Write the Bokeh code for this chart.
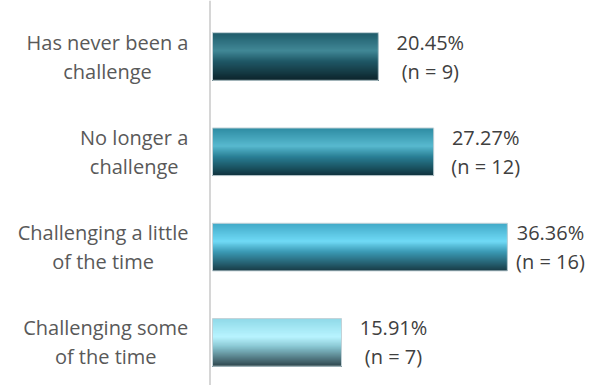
from bokeh.plotting import figure
from bokeh.models import ColumnDataSource, LabelSet, Range1d, Span
from bokeh.core.properties import value
from bokeh.embed import file_html
from bokeh.resources import INLINE

# ---- data ----
category_labels = ["Has never been a\nchallenge",
                   "No longer a\nchallenge",
                   "Challenging a little\nof the time",
                   "Challenging some\nof the time"]
pct = [20.45, 27.27, 36.36, 15.91]
counts = [9, 12, 16, 7]

# ---- style ----
gradients = [
    [(0.0, "#1f5b6a"), (0.38, "#418896"), (0.6, "#1f5866"), (1.0, "#0d242b")],
    [(0.0, "#2d8ba2"), (0.38, "#58b9cf"), (0.6, "#2a8096"), (1.0, "#0f313b")],
    [(0.0, "#41a9c7"), (0.38, "#70daf6"), (0.6, "#3a99b4"), (1.0, "#173a44")],
    [(0.0, "#8fd9e8"), (0.38, "#b8f4ff"), (0.6, "#86c3cf"), (1.0, "#2e454c")],
]
FONT = "Open Sans"
FS = 20
LINE_GAP = 29
W, H = 589, 385
PX_PER = 8.11
ZERO_PX = 212
PITCH = 95.3
BAR_H = 0.5
TOP_CENTER = 56

x_start = -ZERO_PX / PX_PER
x_end = x_start + W / PX_PER
y_top = 1 - TOP_CENTER / PITCH
y_bot = y_top + H / PITCH
ys = list(range(1, len(pct) + 1))

p = figure(width=W, height=H, output_backend="svg", toolbar_location=None,
           x_range=Range1d(x_start, x_end), y_range=Range1d(y_bot, y_top),
           x_axis_location=None, y_axis_location=None,
           min_border_left=0, min_border_right=0,
           min_border_top=0, min_border_bottom=0)
p.grid.visible = False
p.outline_line_color = None
p.background_fill_color = "white"


def h2rgb(h):
    h = h.lstrip("#")
    return [int(h[i:i + 2], 16) for i in (0, 2, 4)]


def interp(stops, t):
    for (t0, c0), (t1, c1) in zip(stops[:-1], stops[1:]):
        if t0 <= t <= t1:
            f = (t - t0) / (t1 - t0)
            a, b = h2rgb(c0), h2rgb(c1)
            return "#%02x%02x%02x" % tuple(int(round(a[j] + (b[j] - a[j]) * f)) for j in range(3))
    return stops[-1][1]


# gradient fill: strips drawn top to bottom, each reaching to the bar bottom
N = 48
qt, qb, qr, qc = [], [], [], []
for v, y, st in zip(pct, ys, gradients):
    for k in range(N):
        t0 = k / N
        qt.append(y - BAR_H / 2 + t0 * BAR_H)
        qb.append(y + BAR_H / 2)
        qr.append(v)
        qc.append(interp(st, (k + 0.5) / N))
p.quad(left=0, right=qr, top=qt, bottom=qb, fill_color=qc, line_color=None)
p.hbar(y=ys, left=0, right=pct, height=BAR_H, fill_color=None,
       line_color="#c3d2d7", line_width=1)

p.add_layout(Span(location=-2.5 / PX_PER, dimension="height",
                  line_color="#d6d6d6", line_width=2))


def est_width(s):
    w = {" ": 532, "a": 1139, "b": 1255, "c": 983, "d": 1255, "e": 1149, "f": 694,
         "g": 1122, "h": 1257, "i": 518, "k": 1075, "l": 518, "m": 1905, "n": 1257,
         "o": 1237, "p": 1255, "r": 836, "s": 977, "t": 723, "u": 1257, "v": 1026,
         "C": 1292, "H": 1511, "N": 1567}
    return max(sum(w.get(ch, 1100) for ch in line) for line in s.split("\n")) / 2048 * FS


def add_two_line_labels(xs, texts, xoffs, color):
    # each line is centred on the block's centre, Excel-style
    for li, dy in enumerate([LINE_GAP / 2, -LINE_GAP / 2]):
        src = ColumnDataSource(dict(x=xs, y=ys, text=[t.split("\n")[li] for t in texts],
                                    xoff=xoffs))
        p.add_layout(LabelSet(x="x", y="y", text="text", source=src,
                              x_offset="xoff", y_offset=dy,
                              text_align="center", text_baseline="middle",
                              text_font=value(FONT), text_font_size=value(f"{FS}px"),
                              text_color=value(color)))


val_text = [f"{v:.2f}%\n(n = {k})" for v, k in zip(pct, counts)]
val_off = [min(52, (W - 39) - (ZERO_PX + v * PX_PER)) for v in pct]
add_two_line_labels(pct, val_text, val_off, "#404040")

cat_off = [-(24 + est_width(s) / 2) for s in category_labels]
add_two_line_labels([0] * len(ys), category_labels, cat_off, "#595959")

open("out.html", "w").write(file_html(p, INLINE))
